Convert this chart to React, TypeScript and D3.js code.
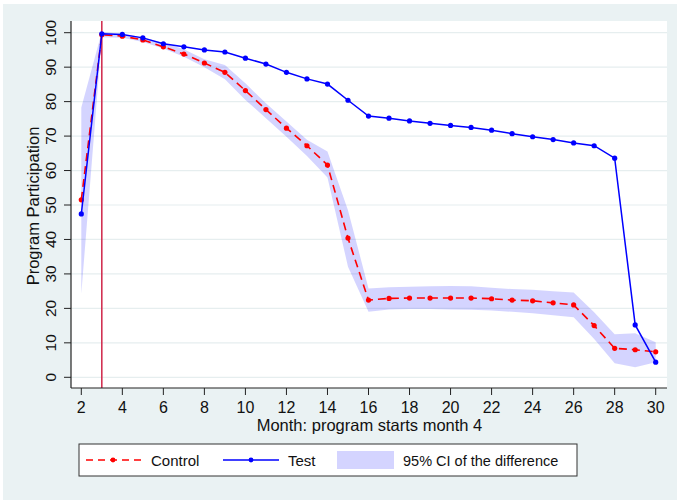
import React from 'react';
import * as d3 from 'd3';

const months = d3.range(2, 31);
const control = [51.5, 99.4, 99.0, 97.9, 95.9, 93.8, 91.2, 88.5, 83.2, 77.7, 72.3, 67.2, 61.6, 40.4, 22.4,
  22.9, 23.0, 23.0, 23.0, 23.0, 22.8, 22.4, 22.2, 21.6, 21.0, 15.0, 8.4, 8.0, 7.4];
const test = [47.4, 99.7, 99.5, 98.5, 96.8, 95.9, 95.0, 94.4, 92.6, 90.9, 88.5, 86.6, 85.1, 80.4, 75.8,
  75.2, 74.4, 73.7, 73.1, 72.5, 71.7, 70.7, 69.8, 69.0, 68.0, 67.2, 63.6, 15.2, 4.4];
const ciUpper = [78.3, 100.3, 99.6, 98.6, 97.1, 95.2, 92.3, 90.6, 85.3, 79.5, 74.2, 68.9, 65.5, 48.5, 25.8,
  26.1, 26.3, 26.4, 26.5, 26.4, 26.0, 25.6, 25.4, 25.0, 24.6, 18.9, 12.5, 12.8, 10.2];
const ciLower = [24.2, 98.7, 98.5, 97.3, 95.4, 93.0, 90.0, 86.5, 80.5, 75.2, 69.8, 64.2, 58.0, 32.1, 19.0,
  19.7, 19.8, 19.8, 19.7, 19.6, 19.4, 19.0, 18.6, 18.0, 17.4, 11.1, 4.1, 2.9, 4.4];
const xTicks = d3.range(2, 31, 2);
const yTicks = d3.range(0, 101, 10);
const programStart = 3;

const W = 677;
const H = 500;
const font = '"Liberation Sans", Arial, Helvetica, sans-serif';

export default function App() {
  const x = d3.scaleLinear().domain([2, 30]).range([81.3, 655.7]);
  const y = d3.scaleLinear().domain([0, 100]).range([377.3, 32.7]);
  const plot = { left: 71, right: 667, top: 21, bottom: 388 };

  const band = d3.area<number>()
    .x((d, i) => x(months[i]))
    .y0((d, i) => y(ciLower[i]))
    .y1((d) => y(d));
  const line = d3.line<number>()
    .x((d, i) => x(months[i]))
    .y((d) => y(d));

  const legendY = 460;

  return (
    <svg width={W} height={H} style={{ position: 'absolute', left: 0, top: 0 }}>
      <rect x={0} y={0} width={W} height={H} fill="#ffffff" />
      <rect x={3} y={4} width={W - 3} height={H - 4} fill="#eaf2f3" />
      <rect x={plot.left} y={plot.top} width={plot.right - plot.left} height={plot.bottom - plot.top} fill="#ffffff" />

      {/* grid */}
      {yTicks.map((t) => (
        <line key={'g' + t} x1={plot.left} x2={plot.right} y1={y(t)} y2={y(t)} stroke="#e6eeef" strokeWidth={1.2} />
      ))}

      {/* CI band */}
      <path d={band(ciUpper) || ''} fill="#0000ff" fillOpacity={0.17} stroke="none" />

      {/* program start */}
      <line x1={x(programStart)} x2={x(programStart)} y1={plot.top} y2={plot.bottom} stroke="#cf2548" strokeWidth={1.5} />

      {/* control */}
      <path d={line(control) || ''} fill="none" stroke="#ff0000" strokeWidth={1.6} strokeDasharray="8,5" />
      {control.map((v, i) => (
        <circle key={'c' + i} cx={x(months[i])} cy={y(v)} r={2.6} fill="#ff0000" />
      ))}

      {/* test */}
      <path d={line(test) || ''} fill="none" stroke="#0000ff" strokeWidth={1.5} />
      {test.map((v, i) => (
        <circle key={'t' + i} cx={x(months[i])} cy={y(v)} r={2.6} fill="#0000ff" />
      ))}

      {/* axes */}
      <line x1={plot.left} x2={plot.left} y1={plot.top} y2={plot.bottom} stroke="#222" strokeWidth={1.2} />
      <line x1={plot.left} x2={plot.right} y1={plot.bottom} y2={plot.bottom} stroke="#222" strokeWidth={1.2} />
      {yTicks.map((t) => (
        <g key={'y' + t}>
          <line x1={plot.left - 7} x2={plot.left} y1={y(t)} y2={y(t)} stroke="#222" strokeWidth={1} />
          <text transform={`translate(56,${y(t)}) rotate(-90)`} textAnchor="middle" fontFamily={font} fontSize={15.5} fill="#111">{t}</text>
        </g>
      ))}
      {xTicks.map((t) => (
        <g key={'x' + t}>
          <line x1={x(t)} x2={x(t)} y1={plot.bottom} y2={plot.bottom + 7} stroke="#222" strokeWidth={1} />
          <text x={x(t)} y={413} textAnchor="middle" fontFamily={font} fontSize={16} fill="#111">{t}</text>
        </g>
      ))}
      <text x={369.5} y={431} textAnchor="middle" fontFamily={font} fontSize={16.5} fill="#111">Month: program starts month 4</text>
      <text transform={`translate(39,206) rotate(-90)`} textAnchor="middle" fontFamily={font} fontSize={16.5} fill="#111">Program Participation</text>

      {/* legend */}
      <rect x={79} y={444} width={498} height={32} fill="#ffffff" stroke="#333" strokeWidth={1} />
      <line x1={86} x2={142} y1={legendY} y2={legendY} stroke="#ff0000" strokeWidth={1.6} strokeDasharray="7,5" />
      <circle cx={113} cy={legendY} r={2.4} fill="#ff0000" />
      <text x={151} y={legendY + 5.5} fontFamily={font} fontSize={15} fill="#111">Control</text>
      <line x1={223} x2={279} y1={legendY} y2={legendY} stroke="#0000ff" strokeWidth={1.5} />
      <circle cx={251} cy={legendY} r={2.4} fill="#0000ff" />
      <text x={288} y={legendY + 5.5} fontFamily={font} fontSize={15} fill="#111">Test</text>
      <rect x={337} y={451} width={57} height={18} fill="#0000ff" fillOpacity={0.17} />
      <text x={403} y={legendY + 5.5} fontFamily={font} fontSize={14.5} fill="#111">95% CI of the difference</text>
    </svg>
  );
}
